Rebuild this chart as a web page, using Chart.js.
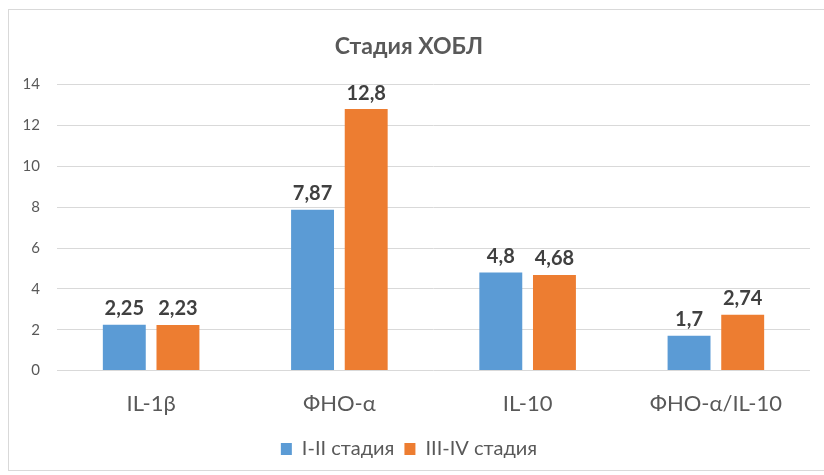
<!DOCTYPE html>
<html>
<head>
<meta charset="utf-8">
<script src="https://cdn.jsdelivr.net/npm/chart.js@4"></script>
<style>
  html, body { margin: 0; padding: 0; background: #fff; }
  #wrap { position: relative; width: 824px; height: 475px; }
  #frame { position: absolute; left: 8px; top: 9px; width: 830px; height: 462px; border: 1px solid #d9d9d9; box-sizing: border-box; }
  canvas { position: absolute; left: 0; top: 0; }
</style>
</head>
<body>
<div id="wrap">
  <div id="frame"></div>
  <canvas id="c" width="824" height="475"></canvas>
</div>
<script>
const categories = ['IL-1β', 'ФНО-α', 'IL-10', 'ФНО-α/IL-10'];
const stageEarly = [2.25, 7.87, 4.8, 1.7];
const stageLate = [2.23, 12.8, 4.68, 2.74];
const seriesNames = ['I-II стадия', 'III-IV стадия'];
const yTicks = [0, 2, 4, 6, 8, 10, 12, 14];

const FONT = 'Lato, "Open Sans", "Liberation Sans", sans-serif';

// Value labels above each bar, printed with a decimal comma
const valueLabels = {
  id: 'valueLabels',
  afterDatasetsDraw(chart) {
    const ctx = chart.ctx;
    ctx.save();
    ctx.font = 'bold 20px ' + FONT;
    ctx.fillStyle = '#404040';
    ctx.textAlign = 'center';
    ctx.textBaseline = 'bottom';
    chart.data.datasets.forEach((ds, i) => {
      chart.getDatasetMeta(i).data.forEach((bar, j) => {
        const txt = String(ds.data[j]).replace('.', ',');
        ctx.fillText(txt, bar.x, bar.y - 6);
      });
    });
    ctx.restore();
  }
};

new Chart(document.getElementById('c'), {
  type: 'bar',
  data: {
    labels: categories,
    datasets: [
      { label: seriesNames[0], data: stageEarly, backgroundColor: '#5B9BD5' },
      { label: seriesNames[1], data: stageLate, backgroundColor: '#ED7D31' }
    ]
  },
  options: {
    responsive: false,
    animation: false,
    devicePixelRatio: 1,
    layout: { padding: { left: 8, right: 14, top: 33, bottom: 6 } },
    categoryPercentage: 0.57,
    barPercentage: 0.8,
    plugins: {
      title: {
        display: true,
        text: 'Стадия ХОБЛ',
        color: '#595959',
        font: { family: FONT, size: 23, weight: 'bold' },
        padding: { top: 0, bottom: 24 }
      },
      legend: {
        position: 'bottom',
        labels: {
          color: '#595959',
          font: { family: FONT, size: 20 },
          boxWidth: 11,
          boxHeight: 12,
          padding: 10
        }
      },
      tooltip: { enabled: false }
    },
    scales: {
      x: {
        grid: { display: false },
        border: { display: false },
        ticks: { color: '#595959', font: { family: FONT, size: 22 }, padding: 12 }
      },
      y: {
        min: 0,
        max: 14,
        afterBuildTicks(scale) { scale.ticks = yTicks.map(v => ({ value: v })); },
        afterFit(scale) { scale.width = 49; },
        grid: { color: '#d9d9d9', lineWidth: 1, drawTicks: false },
        border: { display: false },
        ticks: { color: '#595959', font: { family: FONT, size: 15 }, padding: 17 }
      }
    }
  },
  plugins: [valueLabels]
});
</script>
</body>
</html>
